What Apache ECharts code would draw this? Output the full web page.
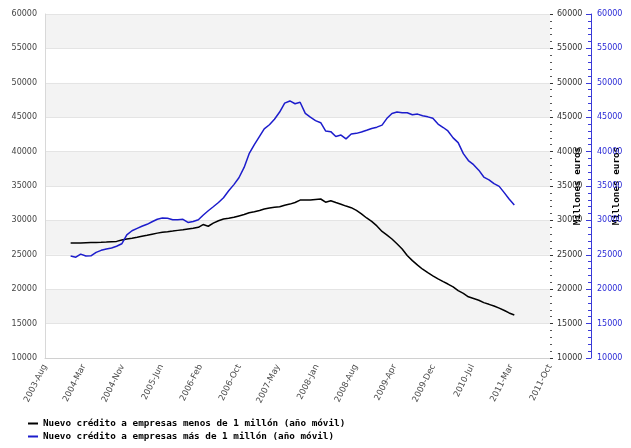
<!DOCTYPE html>
<html>
<head>
<meta charset="utf-8">
<script src="https://cdn.jsdelivr.net/npm/echarts@6/dist/echarts.min.js"></script>
<style>html,body{margin:0;padding:0;background:#fff}#c{width:631px;height:448px}</style>
</head>
<body>
<div id="c"></div>
<script>
// Monthly data, January 2004 .. April 2011
const startYear = 2004, startMonth = 0; // Jan 2004
const seriesNames = [
  'Nuevo crédito a empresas menos de 1 millón (año móvil)',
  'Nuevo crédito a empresas más de 1 millón (año móvil)'
];
const smallLoans = [
  26700,26700,26720,26750,26780,26800,26820,26850,26900,26950,27150,27300,
  27400,27550,27700,27850,28000,28150,28270,28350,28450,28550,28650,28750,
  28850,29000,29400,29150,29600,29950,30200,30300,30450,30650,30850,31100,
  31250,31450,31650,31800,31920,31980,32200,32370,32600,32950,32950,32950,
  33050,33110,32650,32860,32600,32350,32080,31850,31450,30950,30350,29850,
  29200,28400,27900,27300,26600,25850,24900,24150,23500,22900,22400,21950,
  21500,21100,20750,20350,19800,19400,18900,18650,18400,18050,17800,17550,
  17250,16900,16550,16250
];
const largeLoans = [
  24830,24650,25100,24830,24850,25350,25650,25850,26000,26250,26600,27900,
  28500,28850,29150,29430,29800,30160,30350,30300,30100,30100,30150,29700,
  29850,30100,30750,31400,31980,32600,33300,34300,35200,36200,37700,39700,
  41000,42200,43300,43900,44700,45750,47050,47360,46950,47170,45550,45000,
  44500,44200,43000,42900,42200,42400,41850,42550,42650,42850,43100,43350,
  43550,43850,44800,45550,45750,45650,45650,45350,45450,45200,45050,44850,
  44000,43500,43000,42000,41300,39700,38700,38100,37300,36300,35900,35350,
  34950,34000,33100,32240
];
const monthNames = ['Jan','Feb','Mar','Apr','May','Jun','Jul','Aug','Sep','Oct','Nov','Dec'];
const axisStart = Date.UTC(2003, 7, 1);   // 2003-Aug
const axisEnd = Date.UTC(2011, 9, 31);    // 2011-Oct
const DAY = 86400000;
const axisSpan = (axisEnd - axisStart) / DAY;
const tickCount = 13;

function dayOf(i) { return (Date.UTC(startYear, startMonth + i, 1) - axisStart) / DAY; }
const s1 = smallLoans.map((v, i) => [dayOf(i), v]);
const s2 = largeLoans.map((v, i) => [dayOf(i), v]);

const chart = echarts.init(document.getElementById('c'), null, {renderer: 'canvas'});
const labelFont = 'DejaVu Sans';
const plain = v => String(Math.round(v));
chart.setOption({
  animation: false,
  backgroundColor: '#fff',
  grid: {left: 45, right: 81, top: 14, bottom: 90, containLabel: false, outerBoundsMode: 'none'},
  legend: {
    orient: 'vertical', left: 23, top: 414, itemGap: 4,
    itemWidth: 10, itemHeight: 2, icon: 'rect',
    textStyle: {fontFamily: 'DejaVu Sans Mono', fontWeight: 'bold', fontSize: 9.3, color: '#000'},
    data: seriesNames
  },
  xAxis: {
    type: 'value', min: 0, max: axisSpan, interval: axisSpan / tickCount,
    splitLine: {show: false},
    axisLine: {lineStyle: {color: '#d0d0d0'}},
    axisTick: {show: false},
    axisLabel: {
      rotate: 63, fontSize: 8.5, fontFamily: labelFont, color: '#4a4a4a', margin: 7,
      showMaxLabel: true, showMinLabel: true,
      formatter: v => { const d = new Date(axisStart + Math.round(v) * DAY); return d.getUTCFullYear() + '-' + monthNames[d.getUTCMonth()]; }
    }
  },
  yAxis: [
    {
      type: 'value', position: 'left', min: 10000, max: 60000, interval: 5000,
      axisLine: {show: true, lineStyle: {color: '#d8d8d8'}},
      axisTick: {show: false},
      axisLabel: {fontSize: 8, fontFamily: labelFont, color: '#444', margin: 8, formatter: plain},
      splitLine: {show: true, lineStyle: {color: '#e4e4e4'}},
      splitArea: {show: true, areaStyle: {color: ['#ffffff', '#f3f3f3']}}
    },
    {
      type: 'value', position: 'right', min: 10000, max: 60000, interval: 5000,
      name: 'Millones euros', nameLocation: 'middle', nameGap: 23, nameRotate: 90, nameMoveOverlap: false,
      nameTextStyle: {fontFamily: 'DejaVu Sans Mono', fontWeight: 'bold', fontSize: 9.3, color: '#000'},
      axisLine: {show: false},
      axisTick: {show: true, length: 3, lineStyle: {color: '#333'}},
      minorTick: {show: true, splitNumber: 5, length: 2, lineStyle: {color: '#555'}},
      axisLabel: {fontSize: 8, fontFamily: labelFont, color: '#333', margin: 7, formatter: plain},
      splitLine: {show: false}
    },
    {
      type: 'value', position: 'right', offset: 41, min: 10000, max: 60000, interval: 5000,
      name: 'Millones euros', nameLocation: 'middle', nameGap: 21, nameRotate: 90, nameMoveOverlap: false,
      nameTextStyle: {fontFamily: 'DejaVu Sans Mono', fontWeight: 'bold', fontSize: 9.3, color: '#000'},
      axisLine: {show: true, lineStyle: {color: '#3a3ad8', width: 1}},
      axisTick: {show: true, inside: true, length: 5, lineStyle: {color: '#3a3ad8'}},
      minorTick: {show: true, splitNumber: 5, length: 3, lineStyle: {color: '#3a3ad8'}},
      axisLabel: {fontSize: 8, fontFamily: labelFont, color: '#2a2ad6', margin: 6, formatter: plain},
      splitLine: {show: false}
    }
  ],
  series: [
    {name: seriesNames[0], type: 'line', yAxisIndex: 0, data: s1, showSymbol: false,
     lineStyle: {color: '#000', width: 1.5}, itemStyle: {color: '#000'}},
    {name: seriesNames[1], type: 'line', yAxisIndex: 2, data: s2, showSymbol: false,
     lineStyle: {color: '#1c1ccc', width: 1.5}, itemStyle: {color: '#1c1ccc'}}
  ]
});
</script>
</body>
</html>
